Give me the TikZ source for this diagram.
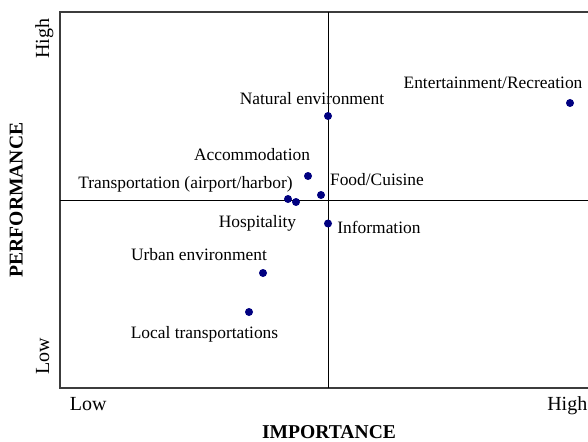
\documentclass[tikz,border=0pt]{standalone}
\usepackage{fontspec}
\setmainfont{Liberation Serif}
\definecolor{dotblue}{RGB}{0,0,128}
\definecolor{boxgray}{RGB}{60,60,60}
\begin{document}
\begin{tikzpicture}[x=1pt,y=-1pt,
  lbl/.style={anchor=base,inner sep=0pt,font=\fontsize{17.4}{20}\selectfont},
  axlbl/.style={anchor=base,inner sep=0pt,font=\fontsize{20}{23}\selectfont},
  axtitle/.style={anchor=base,inner sep=0pt,font=\fontsize{19.6}{22}\selectfont\bfseries},
  pt/.style={circle,fill=dotblue,inner sep=0pt,minimum size=8pt},
  frame/.style={draw=boxgray,line width=1.5pt},
  cross/.style={draw=black,line width=0.9pt}]
\useasboundingbox (0,0) rectangle (588,441);
% frame (right side lies beyond the picture)
\draw[frame] (592,12) -- (60,12) -- (60,388) -- (592,388);
% quadrant lines
\coordinate (vt) at (328,12);
\coordinate (vb) at (328,388);
\coordinate (hl) at (60,200);
\coordinate (hr) at (592,200);
\draw[cross] (vt) -- (vb);
\draw[cross] (hl) -- (hr);
% points
\node[pt] (ent) at (570,103) {};
\node[pt] (nat) at (328,116) {};
\node[pt] (acc) at (308,176) {};
\node[pt] (food) at (321,195) {};
\node[pt] (trans) at (288,199) {};
\node[pt] (hosp) at (296,202) {};
\node[pt] (info) at (328,223.5) {};
\node[pt] (urb) at (263,273) {};
\node[pt] (loc) at (249,312) {};
% labels
\node[lbl] (lent) at (493,89) {Entertainment/Recreation};
\node[lbl] (lnat) at (312,105) {Natural environment};
\node[lbl] (lacc) at (252,160) {Accommodation};
\node[lbl] (ltrans) at (185.5,188) {Transportation (airport/harbor)};
\node[lbl] (lfood) at (377,185) {Food/Cuisine};
\node[lbl] (lhosp) at (257.5,227) {Hospitality};
\node[lbl] (linfo) at (379,233) {Information};
\node[lbl] (lurb) at (199,260) {Urban environment};
\node[lbl] (lloc) at (204.5,338) {Local transportations};
% axis labels
\node[axlbl] (xlow) at (88.3,410.5) {Low};
\node[axlbl] (xhigh) at (567.3,410.5) {High};
\node[axlbl,rotate=90] (yhigh) at (49,38.5) {High};
\node[axlbl,rotate=90] (ylow) at (49,356) {Low};
\node[axtitle] (ximp) at (329,438) {IMPORTANCE};
\node[axtitle,rotate=90] (yperf) at (22.5,200) {PERFORMANCE};
\end{tikzpicture}
\end{document}
